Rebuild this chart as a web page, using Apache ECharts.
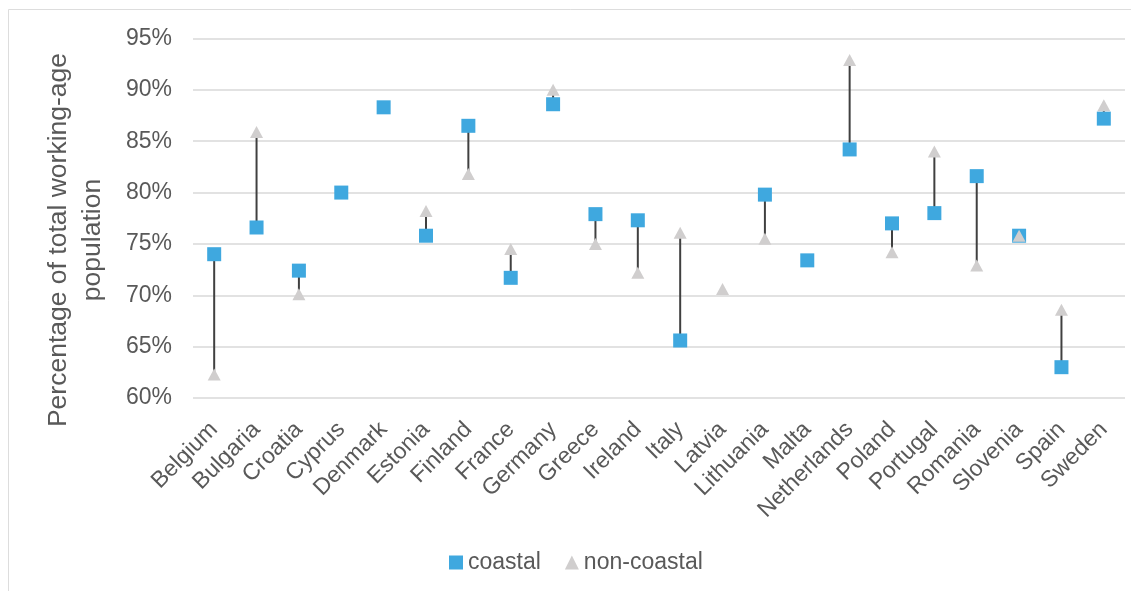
<!DOCTYPE html>
<html><head><meta charset="utf-8">
<script src="https://cdn.jsdelivr.net/npm/echarts@6/dist/echarts.min.js"></script>
<style>html,body{margin:0;padding:0;background:#fff}#c{width:1131px;height:591px}</style>
</head><body><div id="c"></div>
<script>
const categories = ['Belgium','Bulgaria','Croatia','Cyprus','Denmark','Estonia','Finland','France','Germany','Greece','Ireland','Italy','Latvia','Lithuania','Malta','Netherlands','Poland','Portugal','Romania','Slovenia','Spain','Sweden'];
const coastal    = [74.0, 76.6, 72.4, 80.0, 88.3, 75.8, 86.5, 71.7, 88.6, 77.9, 77.3, 65.6, null, 79.8, 73.4, 84.2, 77.0, 78.0, 81.6, 75.8, 63.0, 87.2];
const nonCoastal = [62.3, 85.9, 70.1, null, null, 78.2, 81.8, 74.5, 90.0, 75.0, 72.2, 76.1, 70.6, 75.5, null, 92.9, 74.2, 84.0, 72.9, 75.8, 68.6, 88.5];
const yMin = 60, yMax = 95, yStep = 5;
const yTitle = 'Percentage of total working-age\npopulation';

const FONT = 'Liberation Sans, Arial, sans-serif';
const TXT = '#595959';

const lineData = categories.map((c, i) => [i, coastal[i], nonCoastal[i]])
  .filter(d => d[1] != null && d[2] != null);
const coastalData = coastal.map((v, i) => [i, v]).filter(d => d[1] != null);
const nonCoastalData = nonCoastal.map((v, i) => [i, v]).filter(d => d[1] != null);

const chart = echarts.init(document.getElementById('c'));
chart.setOption({
  animation: false,
  backgroundColor: '#fff',
  textStyle: { fontFamily: FONT },
  grid: { left: 193, right: 6, top: 38.5, bottom: 193, containLabel: false, outerBoundsMode: 'none' },
  graphic: [
    { type: 'rect', silent: true, z: -1, shape: { x: 8.5, y: 9.5, width: 1400, height: 900 },
      style: { fill: 'none', stroke: '#DDDDDD', lineWidth: 1 } },
    { type: 'text', x: 76, y: 240, rotation: Math.PI / 2,
      style: { text: yTitle, fontSize: 26.5, fontFamily: FONT, fill: TXT, align: 'center', verticalAlign: 'middle', lineHeight: 34 } }
  ],
  legend: {
    data: [{ name: 'coastal', icon: 'rect' }, { name: 'non-coastal', icon: 'triangle' }],
    left: 444, top: 546, itemWidth: 14, itemHeight: 14, itemGap: 24,
    textStyle: { fontSize: 23, color: TXT, fontFamily: FONT }
  },
  xAxis: {
    type: 'category', data: categories, boundaryGap: true,
    axisLine: { show: false }, axisTick: { show: false },
    axisLabel: { interval: 0, rotate: 45, fontSize: 23, color: TXT, fontFamily: FONT, margin: 28, padding: [20, 0, 0, 0] }
  },
  yAxis: {
    type: 'value', min: yMin, max: yMax, interval: yStep,
    axisLine: { show: false }, axisTick: { show: false },
    axisLabel: { formatter: '{value}%', fontSize: 23, color: TXT, fontFamily: FONT, margin: 21 },
    splitLine: { lineStyle: { color: '#D9D9D9', width: 1.5 } }
  },
  series: [
    {
      type: 'custom', name: 'range', z: 1, silent: true,
      data: lineData,
      encode: { x: 0, y: [1, 2] },
      renderItem: function (params, api) {
        const x = api.value(0);
        const p1 = api.coord([x, api.value(1)]);
        const p2 = api.coord([x, api.value(2)]);
        return { type: 'line', shape: { x1: p1[0], y1: p1[1], x2: p2[0], y2: p2[1] },
                 style: { stroke: '#404040', lineWidth: 2 } };
      }
    },
    {
      type: 'scatter', name: 'coastal', z: 2, symbol: 'rect', symbolSize: 14,
      itemStyle: { color: '#3FA8DF', opacity: 1 }, data: coastalData
    },
    {
      type: 'scatter', name: 'non-coastal', z: 3, symbol: 'triangle', symbolSize: [13, 12],
      itemStyle: { color: '#D0CECE', opacity: 1 }, data: nonCoastalData
    }
  ]
});
</script>
</body></html>
